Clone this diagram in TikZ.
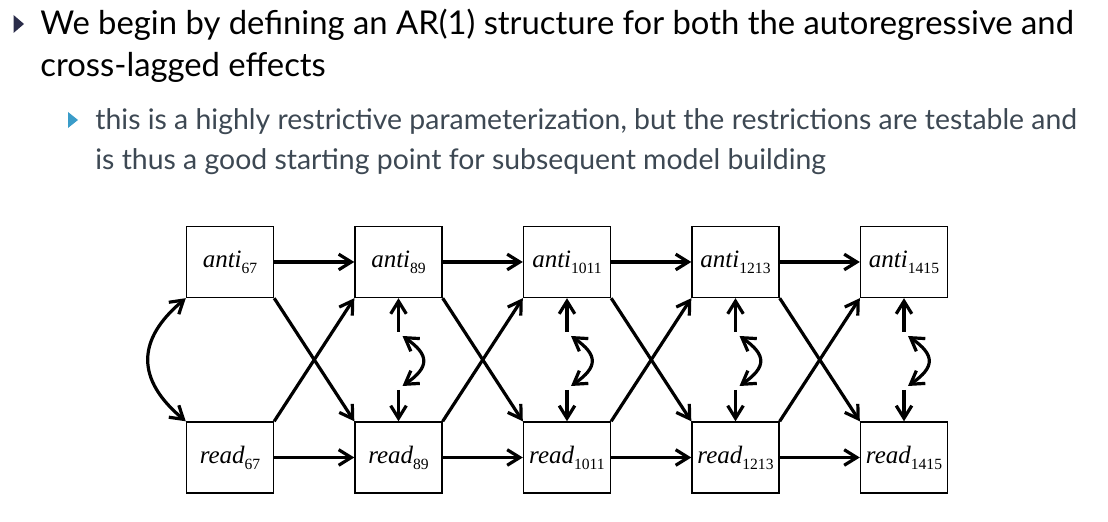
\documentclass[tikz,border=0pt]{standalone}
\usepackage{fontspec}
\setmainfont{Liberation Serif}
\newfontfamily\headfont{Lato}
\usetikzlibrary{arrows.meta,positioning}
\definecolor{bulletdark}{HTML}{2B2D4A}
\definecolor{bulletblue}{HTML}{3A9CC9}
\definecolor{subtext}{HTML}{3D4853}
\newcommand{\tsub}[1]{\raisebox{-3pt}{\upshape\fontsize{7.8}{9}\selectfont #1}}
\tikzset{
    obs/.style={draw,line width=0.7pt,minimum width=43.5pt,minimum height=35.5pt,inner sep=0pt,font=\fontsize{12.5}{14}\selectfont\itshape},
    effect/.style={line width=1.6pt,-{Straight Barb[length=6.3pt,width=7.8pt]}},
    cov/.style={line width=1.6pt,{Straight Barb[length=6.3pt,width=7.8pt]}-{Straight Barb[length=6.3pt,width=7.8pt]}},
    headline/.style={anchor=base west,inner sep=0pt,font=\headfont\fontsize{16.4}{21}\selectfont},
    subline/.style={anchor=base west,inner sep=0pt,text=subtext,font=\headfont\fontsize{14.2}{20}\selectfont}
}
\begin{document}
\begin{tikzpicture}[x=0.5pt,y=0.5pt]
\useasboundingbox (0,0) rectangle (1108,522);
\fill[bulletdark] (13.5,507) -- (24,498) -- (13.5,489) -- cycle;
\node[headline] (head1) at (40,487) {We begin by defining an AR(1) structure for both the autoregressive and};
\node[headline] (head2) at (40,445) {cross-lagged effects};
\fill[bulletblue] (68,410) -- (78,402) -- (68,394) -- cycle;
\node[subline] (sub1) at (95,392) {this is a highly restrictive parameterization, but the restrictions are testable and};
\node[subline] (sub2) at (95,352) {is thus a good starting point for subsequent model building};

\node[obs] (anti67) at (230,260) {anti\tsub{67}};
\node[obs] (anti89) at (398.5,260) {anti\tsub{89}};
\node[obs] (anti1011) at (567,260) {anti\tsub{1011}};
\node[obs] (anti1213) at (735.5,260) {anti\tsub{1213}};
\node[obs] (anti1415) at (904,260) {anti\tsub{1415}};
\node[obs] (read67) at (230,64.5) {read\tsub{67}};
\node[obs] (read89) at (398.5,64.5) {read\tsub{89}};
\node[obs] (read1011) at (567,64.5) {read\tsub{1011}};
\node[obs] (read1213) at (735.5,64.5) {read\tsub{1213}};
\node[obs] (read1415) at (904,64.5) {read\tsub{1415}};

\draw[effect] (anti67) -- (anti89);
\draw[effect] (anti89) -- (anti1011);
\draw[effect] (anti1011) -- (anti1213);
\draw[effect] (anti1213) -- (anti1415);
\draw[effect] (read67) -- (read89);
\draw[effect] (read89) -- (read1011);
\draw[effect] (read1011) -- (read1213);
\draw[effect] (read1213) -- (read1415);

\draw[effect] (anti67.south east) -- (read89.north west);
\draw[effect] (anti89.south east) -- (read1011.north west);
\draw[effect] (anti1011.south east) -- (read1213.north west);
\draw[effect] (anti1213.south east) -- (read1415.north west);
\draw[effect] (read67.north east) -- (anti89.south west);
\draw[effect] (read89.north east) -- (anti1011.south west);
\draw[effect] (read1011.north east) -- (anti1213.south west);
\draw[effect] (read1213.north east) -- (anti1415.south west);

\draw[cov] (anti67.south west) to[bend right=50,looseness=1.35] (read67.north west);

\coordinate (ea89) at (398.5,190);
\coordinate (er89) at (398.5,132);
\coordinate (ea1011) at (567,190);
\coordinate (er1011) at (567,132);
\coordinate (ea1213) at (735.5,190);
\coordinate (er1213) at (735.5,132);
\coordinate (ea1415) at (904,190);
\coordinate (er1415) at (904,132);

\draw[effect] (ea89) -- (anti89);
\draw[effect] (er89) -- (read89);
\draw[cov] ([shift={(4,-4)}]ea89) to[bend left=55,looseness=1.7] ([shift={(4,4)}]er89);
\draw[effect] (ea1011) -- (anti1011);
\draw[effect] (er1011) -- (read1011);
\draw[cov] ([shift={(4,-4)}]ea1011) to[bend left=55,looseness=1.7] ([shift={(4,4)}]er1011);
\draw[effect] (ea1213) -- (anti1213);
\draw[effect] (er1213) -- (read1213);
\draw[cov] ([shift={(4,-4)}]ea1213) to[bend left=55,looseness=1.7] ([shift={(4,4)}]er1213);
\draw[effect] (ea1415) -- (anti1415);
\draw[effect] (er1415) -- (read1415);
\draw[cov] ([shift={(4,-4)}]ea1415) to[bend left=55,looseness=1.7] ([shift={(4,4)}]er1415);
\end{tikzpicture}
\end{document}
